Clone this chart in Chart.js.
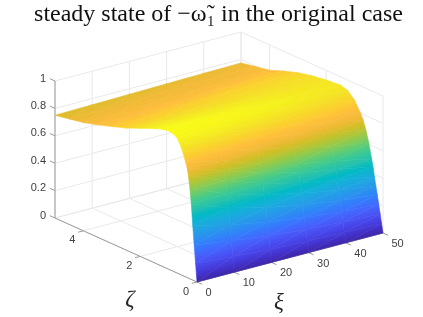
<!DOCTYPE html>
<html><head><meta charset="utf-8">
<script src="https://cdn.jsdelivr.net/npm/chart.js@4"></script>
<style>html,body{margin:0;padding:0;background:#fff}canvas{display:block}</style>
</head><body>
<canvas id="c" width="423" height="317"></canvas>
<script>
// ---------- data ----------
const titleText = 'steady state of \u2212\u03C9\u0303\u2081 in the original case';
const xiValues = [0, 10, 20, 30, 40, 50];
const zetaValues = [0, .05, .1, .15, .2, .25, .3, .35, .4, .5, .6, .7, .8, 1, 1.25, 1.5, 2, 2.5, 3, 3.5, 4, 4.5, 5];
const zAtXi0  = [0, .13, .26, .40, .55, .66, .745, .80, .84, .90, .95, .985, 1.0, 1.01, 1.0, .98, .935, .89, .855, .82, .79, .77, .75];
const zAtXi10 = [0, .11, .22, .33, .45, .55, .64, .71, .77, .85, .91, .95, .98, 1.0, 1.0, .975, .935, .895, .86, .825, .795, .775, .755];
const zAtXi20 = [0, .09, .185, .28, .38, .47, .55, .62, .68, .78, .85, .90, .94, .98, .985, .97, .935, .90, .87, .83, .80, .78, .76];
const zAtXi30 = [0, .08, .16, .24, .33, .41, .48, .55, .61, .72, .80, .86, .90, .95, .97, .96, .935, .905, .88, .84, .805, .785, .765];
const zAtXi40 = [0, .07, .145, .215, .29, .36, .43, .50, .56, .66, .745, .81, .855, .915, .945, .95, .93, .91, .885, .85, .81, .79, .77];
const zAtXi50 = [0, .065, .13, .195, .26, .32, .38, .45, .505, .61, .695, .76, .805, .875, .925, .94, .93, .915, .89, .855, .815, .795, .774];
const zRows = [zAtXi0, zAtXi10, zAtXi20, zAtXi30, zAtXi40, zAtXi50];
const xiTicks = [0, 10, 20, 30, 40, 50];
const zetaTicks = [0, 2, 4];
const zTicks = [0, 0.2, 0.4, 0.6, 0.8, 1];
const zGrid = [0, 0.2, 0.4, 0.6, 0.8, 1];
const xiMax = 50, zetaMax = 5, zColorMax = 1.01;
// parula colour map
const parula = [[.2422,.1504,.6603],[.2647,.1978,.7952],[.2783,.2559,.8991],[.2810,.3228,.9579],[.2699,.3892,.9906],[.2206,.4603,.9973],[.1786,.5289,.9682],[.1540,.5902,.9218],[.1248,.6459,.8883],[.0689,.6948,.8394],[.0067,.7312,.7660],[.1408,.7584,.6842],[.2161,.7843,.5923],[.3406,.8008,.4789],[.5044,.7993,.3480],[.6720,.7793,.2227],[.8203,.7498,.1535],[.9393,.7288,.2100],[.9956,.7434,.2371],[.9892,.8086,.1827],[.9600,.8800,.1500],[.9600,.9400,.1100],[.9769,.9839,.0805]];

// ---------- view projection (orthographic, into the hidden plane scales) ----------
const TITLE_H = 32, PAD_L = 14;
const project = (xi, zeta, z) => ({
  x: 197 + 186 * xi / xiMax - 142 * zeta / zetaMax,
  y: 282 - 49 * xi / xiMax - 64 * zeta / zetaMax - 137 * z
});
const GRID = '#e9e9e9', AXIS = '#9a9a9a', TEXT = '#404040';
const lineDs = (pts, color, width) => ({
  type: 'scatter', showLine: true, data: pts, borderColor: color, borderWidth: width,
  pointRadius: 0, fill: false, clip: false, tension: 0
});
const rgb = c => `rgb(${Math.round(c[0]*255)},${Math.round(c[1]*255)},${Math.round(c[2]*255)})`;

function triangleGradient(chart, pts, zs) {
  const sx = chart.scales.x, sy = chart.scales.y;
  const P = pts.map(p => [sx.getPixelForValue(p.x), sy.getPixelForValue(p.y)]);
  const ax = P[1][0]-P[0][0], ay = P[1][1]-P[0][1], bx = P[2][0]-P[0][0], by = P[2][1]-P[0][1];
  const dz1 = zs[1]-zs[0], dz2 = zs[2]-zs[0];
  const det = ax*by - ay*bx;
  const gx = det ? (dz1*by - dz2*ay)/det : 0, gy = det ? (ax*dz2 - bx*dz1)/det : 0;
  const g2 = gx*gx + gy*gy;
  const n = parula.length - 1;
  if (!g2) {
    const f = Math.min(n, Math.round(zs[0]/zColorMax*n));
    return rgb(parula[f]);
  }
  const t0 = (0 - zs[0])/g2, t1 = (zColorMax - zs[0])/g2;
  const grad = chart.ctx.createLinearGradient(P[0][0]+gx*t0, P[0][1]+gy*t0, P[0][0]+gx*t1, P[0][1]+gy*t1);
  parula.forEach((c,i) => grad.addColorStop(i/n, rgb(c)));
  return grad;
}
function triDs(a, b, c) {
  const pts = [a, b, c].map(v => project(v[0], v[1], v[2]));
  const zs = [a[2], b[2], c[2]];
  const closed = [pts[0], pts[1], pts[2], pts[0]];
  const col = ctx => triangleGradient(ctx.chart, pts, zs);
  return {
    type: 'scatter', showLine: true, data: closed, fill: 'shape',
    backgroundColor: col, borderColor: col, borderWidth: 0.6,
    pointRadius: 0, clip: false, tension: 0
  };
}

// Chart.js paints earlier datasets on top, so nearest patches come first
const datasets = [];
for (let i = 0; i < xiValues.length - 1; i++) {
  for (let j = 0; j < zetaValues.length - 1; j++) {
    const v = (ii, jj) => [xiValues[ii], zetaValues[jj], zRows[ii][jj]];
    datasets.push(triDs(v(i,j), v(i+1,j), v(i+1,j+1)));
    datasets.push(triDs(v(i,j), v(i+1,j+1), v(i,j+1)));
  }
}
// axis lines and ticks
const seg = (a, b) => [project(...a), project(...b)];
datasets.push(lineDs(seg([0,0,0],[0,zetaMax,0]), AXIS, 1));
datasets.push(lineDs(seg([0,0,0],[xiMax,0,0]), AXIS, 1));
datasets.push(lineDs(seg([0,zetaMax,0],[0,zetaMax,1]), AXIS, 1));
xiTicks.forEach(t => datasets.push(lineDs(seg([t,0,0],[t,-0.18,0]), AXIS, 1)));
zetaTicks.forEach(t => datasets.push(lineDs(seg([0,t,0],[-1.4,t,0]), AXIS, 1)));
zTicks.forEach(t => datasets.push(lineDs(seg([0,zetaMax,t],[0,zetaMax+0.18,t]), AXIS, 1)));
// grid on the two back walls and the floor
zGrid.forEach(t => {
  datasets.push(lineDs(seg([0,zetaMax,t],[xiMax,zetaMax,t]), GRID, 1));
  datasets.push(lineDs(seg([xiMax,zetaMax,t],[xiMax,0,t]), GRID, 1));
});
xiTicks.forEach(t => {
  datasets.push(lineDs(seg([t,zetaMax,0],[t,zetaMax,1]), GRID, 1));
  datasets.push(lineDs(seg([t,0,0],[t,zetaMax,0]), GRID, 1));
});
[...zetaTicks, zetaMax].forEach(t => {
  datasets.push(lineDs(seg([xiMax,t,0],[xiMax,t,1]), GRID, 1));
  datasets.push(lineDs(seg([0,t,0],[xiMax,t,0]), GRID, 1));
});

const axisText = {
  id: 'axisText',
  afterDraw(chart) {
    const c = chart.ctx, sx = chart.scales.x, sy = chart.scales.y;
    const put = (txt, p, dx, dy, align, font, color) => {
      c.font = font; c.fillStyle = color; c.textAlign = align; c.textBaseline = 'middle';
      c.fillText(txt, sx.getPixelForValue(p.x) + dx, sy.getPixelForValue(p.y) + dy);
    };
    c.save();
    const f = '11px "Liberation Sans"';
    xiTicks.forEach(t => put(String(t), project(t,0,0), 8.5, 11, 'left', f, TEXT));
    zetaTicks.forEach(t => put(String(t), project(0,t,0), -11, 9.5, 'center', f, TEXT));
    zTicks.forEach(t => put(String(t), project(0,zetaMax,t), -9, -2.5, 'right', f, TEXT));
    const lf = 'italic 23px "Liberation Serif"';
    put('\u03B6', project(0,zetaMax/2,0), 4, 50, 'center', lf, '#262626');
    put('\u03BE', project(xiMax/2,0,0), -11, 45.5, 'center', lf, '#262626');
    c.restore();
  }
};

new Chart(document.getElementById('c'), {
  data: { datasets },
  plugins: [axisText],
  options: {
    responsive: false, animation: false,
    layout: { padding: { left: PAD_L, top: 0, right: 0, bottom: 0 } },
    scales: {
      x: { type: 'linear', display: false, min: PAD_L, max: 423 },
      y: { type: 'linear', display: false, min: TITLE_H, max: 317, reverse: true }
    },
    plugins: {
      legend: { display: false },
      tooltip: { enabled: false },
      title: {
        display: true, text: titleText, color: '#111',
        font: { family: '"Liberation Serif"', size: 24, weight: 'normal', lineHeight: 1 },
        padding: { top: 3, bottom: 5 }
      }
    }
  }
});
</script>
</body></html>
